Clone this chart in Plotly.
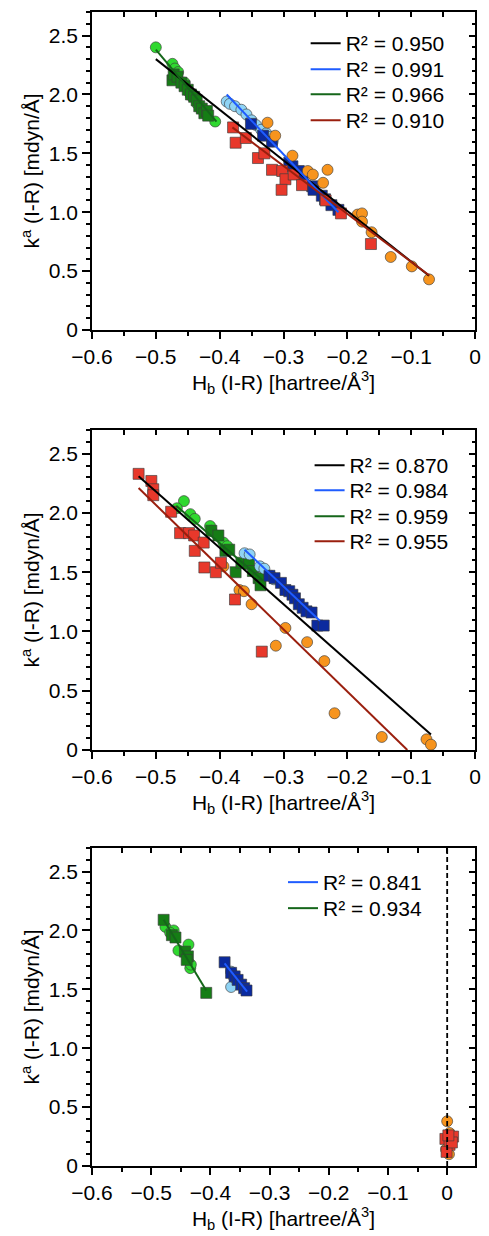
import plotly.graph_objects as go

# ---------------- data ----------------
# Panel 1
p1_gc_x = [-0.500, -0.474, -0.470, -0.465, -0.455, -0.448, -0.445, -0.435, -0.430, -0.420, -0.407]
p1_gc_y = [2.40, 2.26, 2.22, 2.19, 2.10, 2.02, 1.99, 1.92, 1.88, 1.83, 1.77]
p1_gs_x = [-0.474, -0.472, -0.466, -0.460, -0.455, -0.450, -0.445, -0.440, -0.436, -0.432, -0.428, -0.424, -0.420, -0.418]
p1_gs_y = [2.12, 2.17, 2.15, 2.10, 2.07, 2.04, 2.00, 1.98, 1.95, 1.90, 1.88, 1.84, 1.86, 1.82]
p1_bc_x = [-0.389, -0.384, -0.376, -0.366, -0.358, -0.350, -0.343, -0.335, -0.327, -0.320, -0.317]
p1_bc_y = [1.94, 1.92, 1.90, 1.87, 1.83, 1.78, 1.74, 1.70, 1.67, 1.64, 1.60]
p1_bs_x = [-0.351, -0.332, -0.318, -0.291, -0.286, -0.276, -0.270, -0.255, -0.253, -0.240, -0.235, -0.225, -0.214]
p1_bs_y = [1.75, 1.65, 1.60, 1.42, 1.39, 1.35, 1.32, 1.22, 1.19, 1.14, 1.11, 1.06, 1.02]
p1_oc_x = [-0.325, -0.313, -0.286, -0.262, -0.254, -0.231, -0.238, -0.184, -0.177, -0.177, -0.162, -0.132, -0.099, -0.072]
p1_oc_y = [1.76, 1.65, 1.48, 1.35, 1.32, 1.36, 1.25, 0.98, 0.99, 0.92, 0.83, 0.62, 0.54, 0.43]
p1_rs_x = [-0.379, -0.375, -0.359, -0.340, -0.330, -0.318, -0.302, -0.297, -0.303, -0.284, -0.271, -0.234, -0.210, -0.163]
p1_rs_y = [1.72, 1.59, 1.63, 1.46, 1.50, 1.36, 1.35, 1.28, 1.19, 1.32, 1.23, 1.10, 0.99, 0.73]
p1_fit_all_x, p1_fit_all_y = [-0.500, -0.072], [2.30, 0.46]
p1_fit_blue_x, p1_fit_blue_y = [-0.389, -0.214], [2.00, 1.00]
p1_fit_green_x, p1_fit_green_y = [-0.500, -0.405], [2.38, 1.77]
p1_fit_red_x, p1_fit_red_y = [-0.380, -0.072], [1.72, 0.465]
p1_r2 = ["0.950", "0.991", "0.966", "0.910"]

# Panel 2
p2_gc_x = [-0.456, -0.467, -0.446, -0.439, -0.415, -0.413, -0.394, -0.388]
p2_gc_y = [2.10, 2.04, 1.99, 1.95, 1.89, 1.85, 1.75, 1.72]
p2_gs_x = [-0.413, -0.402, -0.391, -0.385, -0.375, -0.366, -0.354, -0.348, -0.339, -0.336]
p2_gs_y = [1.85, 1.81, 1.68, 1.69, 1.50, 1.58, 1.57, 1.51, 1.45, 1.39]
p2_bc_x = [-0.361, -0.353, -0.337, -0.330, -0.320, -0.315]
p2_bc_y = [1.66, 1.65, 1.55, 1.53, 1.47, 1.44]
p2_bs_x = [-0.322, -0.314, -0.304, -0.297, -0.291, -0.286, -0.282, -0.276, -0.270, -0.264, -0.256, -0.247, -0.237]
p2_bs_y = [1.47, 1.45, 1.41, 1.35, 1.34, 1.31, 1.28, 1.23, 1.20, 1.17, 1.16, 1.05, 1.05]
p2_oc_x = [-0.394, -0.369, -0.362, -0.350, -0.312, -0.297, -0.263, -0.236, -0.220, -0.146, -0.076, -0.069]
p2_oc_y = [1.55, 1.35, 1.34, 1.23, 0.88, 1.03, 0.91, 0.75, 0.31, 0.11, 0.09, 0.045]
p2_rs_x = [-0.527, -0.507, -0.504, -0.504, -0.476, -0.462, -0.448, -0.440, -0.439, -0.425, -0.424, -0.406, -0.398, -0.376, -0.334]
p2_rs_y = [2.33, 2.27, 2.20, 2.15, 2.01, 1.83, 1.83, 1.81, 1.68, 1.75, 1.54, 1.50, 1.58, 1.27, 0.83]
p2_fit_all_x, p2_fit_all_y = [-0.527, -0.069], [2.31, 0.13]
p2_fit_blue_x, p2_fit_blue_y = [-0.361, -0.243], [1.69, 1.09]
p2_fit_green_x, p2_fit_green_y = [-0.468, -0.332], [2.06, 1.43]
p2_fit_red_x, p2_fit_red_y = [-0.527, -0.106], [2.21, 0.0]
p2_r2 = ["0.870", "0.984", "0.959", "0.955"]

# Panel 3
p3_gc_x = [-0.476, -0.462, -0.454, -0.437, -0.434, -0.433, -0.468]
p3_gc_y = [2.03, 2.00, 1.83, 1.88, 1.68, 1.71, 1.98]
p3_gs_x = [-0.479, -0.465, -0.459, -0.443, -0.438, -0.440, -0.407]
p3_gs_y = [2.09, 1.96, 1.94, 1.82, 1.78, 1.75, 1.47]
p3_bc_x = [-0.365, -0.365, -0.360]
p3_bc_y = [1.65, 1.52, 1.60]
p3_bs_x = [-0.376, -0.365, -0.359, -0.354, -0.348, -0.343, -0.339]
p3_bs_y = [1.73, 1.64, 1.61, 1.58, 1.54, 1.51, 1.49]
p3_oc_x = [0.000, 0.004, 0.007, -0.002, 0.003]
p3_oc_y = [0.38, 0.28, 0.21, 0.14, 0.10]
p3_rs_x = [-0.003, 0.010, 0.004, -0.001, 0.008, 0.002]
p3_rs_y = [0.23, 0.25, 0.18, 0.12, 0.20, 0.26]
p3_fit_blue_x, p3_fit_blue_y = [-0.376, -0.338], [1.72, 1.48]
p3_fit_green_x, p3_fit_green_y = [-0.479, -0.407], [2.09, 1.49]
p3_vline_x, p3_vline_y = [0.0, 0.0], [0.0, 2.7]
p3_r2 = ["0.841", "0.934"]

x_ticks = [-0.6, -0.5, -0.4, -0.3, -0.2, -0.1, 0.0]
x_ticktext = ["\u22120.6", "\u22120.5", "\u22120.4", "\u22120.3", "\u22120.2", "\u22120.1", "0"]
y_ticks = [0.0, 0.5, 1.0, 1.5, 2.0, 2.5]
y_ticktext = ["0", "0.5", "1.0", "1.5", "2.0", "2.5"]

# ---------------- styles ----------------
FONT = "Liberation Sans, Arial, Helvetica, sans-serif"
FS = 21
C_GC, C_GS = "#2fd82f", "#157d15"
C_BC, C_BS = "#8fd3f4", "#0b2a9e"
C_OC, C_RS = "#f7941d", "#e8382b"
L_ALL, L_BLUE, L_GREEN, L_RED = "#000000", "#1f5cff", "#15661a", "#9a1f0e"
MS = 11

W, H = 489, 1236
ML, MR, MT, MB = 92, 8, 12, 70
PH = H - MT - MB

fig = go.Figure()
legend_defs = {}
_leg_count = [0]

def new_legend(x_px, row_center_px):
    _leg_count[0] += 1
    n = _leg_count[0]
    lid = "legend" if n == 1 else f"legend{n}"
    top_px = row_center_px - 21
    legend_defs[lid] = dict(
        x=(x_px - ML) / (W - ML - MR), y=(H - MB - top_px) / PH,
        xanchor="left", yanchor="top", bgcolor="rgba(0,0,0,0)",
        font=dict(family=FONT, size=FS, color="black"), itemwidth=30)
    return lid

def add_pts(k, x, y, color, symbol):
    fig.add_trace(go.Scatter(
        x=x, y=y, mode="markers", xaxis=f"x{k}", yaxis=f"y{k}", showlegend=False,
        marker=dict(size=MS, color=color, symbol=symbol,
                    line=dict(color="rgba(60,60,60,0.8)", width=0.8))))

def add_line(k, x, y, color, name, legend=None, dash="solid", width=2):
    fig.add_trace(go.Scatter(
        x=x, y=y, mode="lines", xaxis=f"x{k}", yaxis=f"y{k}",
        line=dict(color=color, width=width, dash=dash),
        name=name, legend=legend if legend else "legend", showlegend=legend is not None))

def r2(v):
    return f"R\u00b2 = {v}"

# Panel 1
add_pts(1, p1_gc_x, p1_gc_y, C_GC, "circle")
add_pts(1, p1_gs_x, p1_gs_y, C_GS, "square")
add_pts(1, p1_bc_x, p1_bc_y, C_BC, "circle")
add_pts(1, p1_bs_x, p1_bs_y, C_BS, "square")
add_pts(1, p1_oc_x, p1_oc_y, C_OC, "circle")
add_pts(1, p1_rs_x, p1_rs_y, C_RS, "square")
p1_rows = [44, 70, 95, 121]
add_line(1, p1_fit_all_x, p1_fit_all_y, L_ALL, r2(p1_r2[0]), new_legend(309, p1_rows[0]))
add_line(1, p1_fit_blue_x, p1_fit_blue_y, L_BLUE, r2(p1_r2[1]), new_legend(309, p1_rows[1]))
add_line(1, p1_fit_green_x, p1_fit_green_y, L_GREEN, r2(p1_r2[2]), new_legend(309, p1_rows[2]))
add_line(1, p1_fit_red_x, p1_fit_red_y, L_RED, r2(p1_r2[3]), new_legend(309, p1_rows[3]))

# Panel 2
add_pts(2, p2_gc_x, p2_gc_y, C_GC, "circle")
add_pts(2, p2_gs_x, p2_gs_y, C_GS, "square")
add_pts(2, p2_bc_x, p2_bc_y, C_BC, "circle")
add_pts(2, p2_bs_x, p2_bs_y, C_BS, "square")
add_pts(2, p2_oc_x, p2_oc_y, C_OC, "circle")
add_pts(2, p2_rs_x, p2_rs_y, C_RS, "square")
p2_rows = [466, 491, 517, 542]
add_line(2, p2_fit_all_x, p2_fit_all_y, L_ALL, r2(p2_r2[0]), new_legend(313, p2_rows[0]))
add_line(2, p2_fit_blue_x, p2_fit_blue_y, L_BLUE, r2(p2_r2[1]), new_legend(313, p2_rows[1]))
add_line(2, p2_fit_green_x, p2_fit_green_y, L_GREEN, r2(p2_r2[2]), new_legend(313, p2_rows[2]))
add_line(2, p2_fit_red_x, p2_fit_red_y, L_RED, r2(p2_r2[3]), new_legend(313, p2_rows[3]))

# Panel 3
add_pts(3, p3_gc_x, p3_gc_y, C_GC, "circle")
add_pts(3, p3_gs_x, p3_gs_y, C_GS, "square")
add_pts(3, p3_bc_x, p3_bc_y, C_BC, "circle")
add_pts(3, p3_bs_x, p3_bs_y, C_BS, "square")
add_pts(3, p3_oc_x, p3_oc_y, C_OC, "circle")
add_pts(3, p3_rs_x, p3_rs_y, C_RS, "square")
add_line(3, p3_vline_x, p3_vline_y, "#000000", "", None, dash="5px,3px", width=1.8)
p3_rows = [883, 909]
add_line(3, p3_fit_blue_x, p3_fit_blue_y, L_BLUE, r2(p3_r2[0]), new_legend(286, p3_rows[0]))
add_line(3, p3_fit_green_x, p3_fit_green_y, L_GREEN, r2(p3_r2[1]), new_legend(286, p3_rows[1]))

# ---------------- layout ----------------
def ydom(top_px, bot_px):
    return [(H - MB - bot_px) / PH, (H - MB - top_px) / PH]

doms = [ydom(12, 330), ydom(430, 750), ydom(848, 1166)]
xranges = [[-0.6, 0.0], [-0.6, 0.0], [-0.6, 0.047]]
yrange = [0.0, 2.7]

layout = dict(
    width=W, height=H, margin=dict(l=ML, r=MR, t=MT, b=MB),
    paper_bgcolor="white", plot_bgcolor="white",
    font=dict(family=FONT, size=FS, color="black"),
)
TICKFONT = dict(family=FONT, size=FS, color="black")
for k in (1, 2, 3):
    d = doms[k - 1]
    layout[f"xaxis{k}"] = dict(
        domain=[0, 1], anchor=f"y{k}", range=xranges[k - 1],
        tickvals=x_ticks, ticktext=x_ticktext, ticks="outside", ticklen=7, tickwidth=1.5,
        tickcolor="black", showline=True, linewidth=1.6, linecolor="black",
        showgrid=False, zeroline=False, tickfont=TICKFONT,
        minor=dict(dtick=0.05, tick0=0, ticks="outside", ticklen=4, tickwidth=1.5, tickcolor="black", showgrid=False),
        title=dict(text="H<sub>b</sub> (I-R) [hartree/\u00c5<sup>3</sup>]", font=dict(family=FONT, size=FS), standoff=4),
    )
    layout[f"yaxis{k}"] = dict(
        domain=d, anchor=f"x{k}", range=yrange,
        tickvals=y_ticks, ticktext=y_ticktext, ticks="outside", ticklen=8, tickwidth=1.5,
        tickcolor="black", showline=True, linewidth=1.6, linecolor="black",
        showgrid=False, zeroline=False, tickfont=TICKFONT,
        minor=dict(dtick=0.1, tick0=0, ticks="outside", ticklen=4, tickwidth=1.5, tickcolor="black", showgrid=False),
        title=dict(text="k<sup>a</sup> (I-R) [mdyn/\u00c5]", font=dict(family=FONT, size=FS), standoff=3),
    )
    # overlay axes for top / right frame with inward ticks
    layout[f"xaxis{k+3}"] = dict(
        overlaying=f"x{k}", side="top", anchor=f"y{k+3}", range=xranges[k - 1],
        dtick=0.05, tick0=0, ticks="inside", ticklen=5, tickwidth=1.5, tickcolor="black",
        showticklabels=False, showline=True, linewidth=1.6, linecolor="black",
        showgrid=False, zeroline=False,
    )
    layout[f"yaxis{k+3}"] = dict(
        overlaying=f"y{k}", side="right", anchor=f"x{k+3}", range=yrange,
        tickvals=y_ticks, ticks="inside", ticklen=6, tickwidth=1.5, tickcolor="black",
        showticklabels=False, showline=True, linewidth=1.6, linecolor="black",
        showgrid=False, zeroline=False,
        minor=dict(dtick=0.1, tick0=0, ticks="inside", ticklen=3.5, tickwidth=1.5, tickcolor="black", showgrid=False),
    )
    fig.add_trace(go.Scatter(x=[None], y=[None], xaxis=f"x{k+3}", yaxis=f"y{k+3}",
                             showlegend=False, hoverinfo="skip", mode="markers"))

layout.update(legend_defs)
fig.update_layout(**layout)
fig.write_html("out.html", config={"displayModeBar": False},
               post_script="document.body.style.margin='0';document.body.style.padding='0';")
